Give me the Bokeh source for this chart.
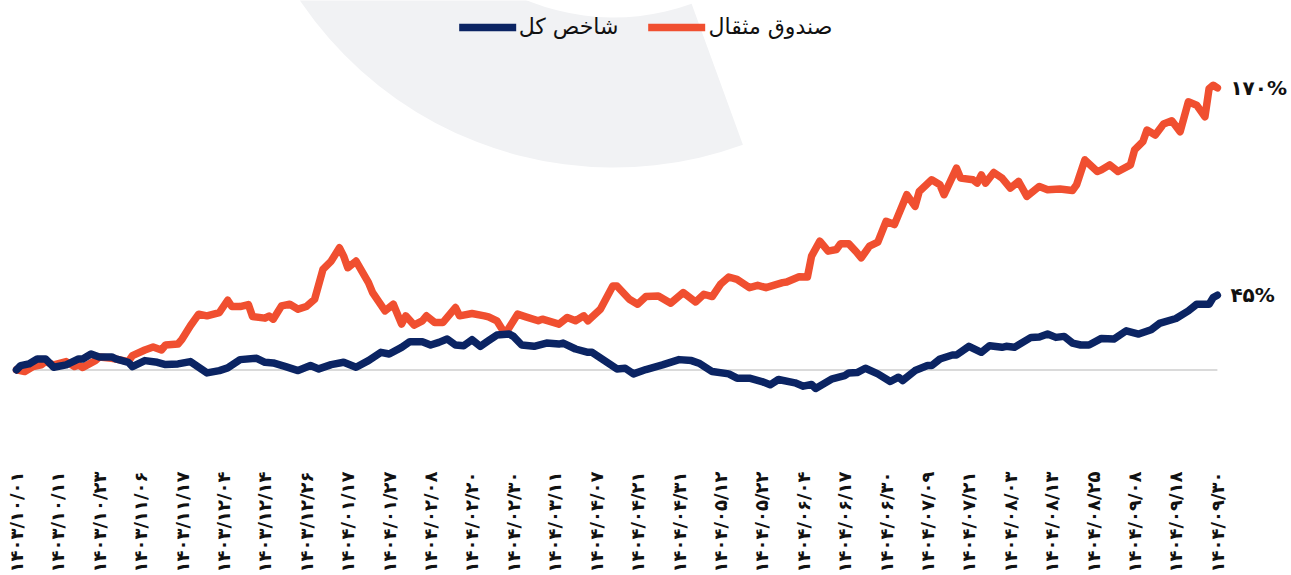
import math
from bokeh.plotting import figure
from bokeh.models import ColumnDataSource, FixedTicker, Legend, LegendItem, Range1d
from bokeh.core.properties import value
from bokeh.embed import file_html
from bokeh.resources import INLINE

# ---------------- data ----------------
tick_labels = [
    "۱۴۰۳/۱۰/۰۱", "۱۴۰۳/۱۰/۱۱", "۱۴۰۳/۱۰/۲۳", "۱۴۰۳/۱۱/۰۶", "۱۴۰۳/۱۱/۱۷",
    "۱۴۰۳/۱۲/۰۴", "۱۴۰۳/۱۲/۱۴", "۱۴۰۳/۱۲/۲۶", "۱۴۰۴/۰۱/۱۷", "۱۴۰۴/۰۱/۲۷",
    "۱۴۰۴/۰۲/۰۸", "۱۴۰۴/۰۲/۲۰", "۱۴۰۴/۰۲/۳۰", "۱۴۰۴/۰۳/۱۱", "۱۴۰۴/۰۴/۰۷",
    "۱۴۰۴/۰۴/۲۱", "۱۴۰۴/۰۴/۳۱", "۱۴۰۴/۰۵/۱۲", "۱۴۰۴/۰۵/۲۲", "۱۴۰۴/۰۶/۰۴",
    "۱۴۰۴/۰۶/۱۷", "۱۴۰۴/۰۶/۳۰", "۱۴۰۴/۰۷/۰۹", "۱۴۰۴/۰۷/۲۱", "۱۴۰۴/۰۸/۰۳",
    "۱۴۰۴/۰۸/۱۳", "۱۴۰۴/۰۸/۲۵", "۱۴۰۴/۰۹/۰۸", "۱۴۰۴/۰۹/۱۸", "۱۴۰۴/۰۹/۳۰",
]
TICK_STEP = 10  # one label every 10 sessions

fund_label = "صندوق مثقال"
index_label = "شاخص کل"

fund_x = [0, 2, 4, 6, 7, 9, 12, 14, 15, 16,
          19, 20, 23, 25, 27, 28, 31, 33, 35, 36,
          39, 40, 42, 44, 46, 49, 51, 52, 54, 56,
          57, 60, 61, 62, 64, 66, 68, 70, 72, 74,
          76, 78, 79, 80, 82, 85, 86, 89, 91, 93,
          94, 96, 98, 99, 101, 103, 106, 107, 110, 113,
          114, 116, 118, 121, 123, 126, 127, 131, 133, 135,
          137, 138, 141, 144, 145, 148, 150, 152, 155, 158,
          161, 164, 166, 168, 170, 172, 174, 177, 179, 181,
          185, 186, 189, 191, 192, 194, 196, 198, 199, 201,
          203, 204, 206, 208, 210, 212, 213, 215, 217, 218,
          221, 223, 224, 227, 228, 231, 232, 233, 234, 236,
          238, 240, 242, 244, 247, 249, 252, 255, 256, 258,
          261, 262, 264, 266, 269, 270, 272, 273, 275, 277,
          279, 281, 283, 285, 287, 288, 289, 290]
fund_y = [0, -1, 2, 3, 5, 3, 5, 2, 3, 1.5,
          5.5, 7.8, 7, 6, 5, 8.6, 12, 13.8, 12, 15,
          15.6, 18.6, 26.6, 33.6, 32.6, 34.6, 42, 38.2, 38.2, 39.4,
          32.2, 31.2, 32.5, 30.6, 38.6, 39.6, 36.6, 38.2, 42.6, 60.6,
          65.6, 73.6, 68.6, 61.6, 65.6, 52.6, 46.6, 35.6, 39.6, 27.6,
          32.6, 27, 29.6, 32.6, 28.6, 28.6, 37.6, 32.6, 34, 32.6,
          32, 29.6, 21.6, 33.6, 32, 29.6, 30.6, 27.6, 31.6, 29.6,
          32.6, 29.6, 36.6, 50.6, 50.6, 42.6, 39.6, 44.2, 44.6, 40.2,
          46.6, 41, 45.6, 44.2, 51.6, 56, 54.6, 49.6, 51, 49.6,
          52.6, 53, 56.2, 56, 68.6, 77.6, 71.6, 72.6, 76, 76,
          70.6, 67.6, 74.6, 77, 89.6, 87.6, 93.6, 105.6, 98.6, 107.6,
          114.6, 111.6, 105.6, 121.6, 115.6, 114.6, 112.6, 117.6, 112.6, 119,
          115.6, 109.6, 113.6, 104.6, 110.6, 108.6, 109, 108.2, 111.6, 126.6,
          119.6, 120.6, 123.6, 119.6, 123.6, 132.6, 137.6, 144.6, 141.6, 148.2,
          150.2, 143.6, 161.6, 159.6, 152.6, 169.6, 171.6, 170]

index_x = [0, 1, 3, 5, 7, 9, 12, 15, 16, 18,
           20, 23, 24, 27, 28, 31, 34, 36, 39, 42,
           46, 49, 51, 54, 58, 60, 62, 65, 68, 71,
           73, 76, 79, 82, 85, 88, 90, 93, 95, 98,
           100, 102, 104, 106, 108, 110, 112, 114, 116, 119,
           120, 122, 125, 128, 131, 132, 135, 138, 139, 142,
           145, 147, 149, 152, 156, 160, 163, 165, 168, 172,
           174, 177, 180, 182, 184, 188, 190, 192, 193, 197,
           200, 201, 203, 205, 208, 211, 213, 214, 217, 220,
           221, 223, 226, 227, 230, 233, 235, 238, 239, 241,
           245, 247, 249, 251, 253, 255, 257, 259, 262, 265,
           268, 271, 274, 276, 280, 283, 285, 288, 289, 290]
index_y = [0, 2.6, 3.6, 6.6, 6.6, 1.6, 3, 6.6, 6.6, 9.6,
           7.8, 7.8, 6.6, 4.6, 2, 5.6, 4.6, 3.2, 3.6, 5,
           -1.8, -0.4, 1.2, 6.2, 7, 4.6, 4.2, 2, -0.4, 2.6,
           0.6, 3.2, 4.6, 1.6, 5.6, 10.6, 9.6, 13.6, 17, 17,
           15, 16.6, 18.6, 15, 14.6, 18.2, 14.2, 17.6, 21, 21.6,
           20.2, 15, 14.2, 16.2, 15.6, 16.2, 12.6, 10.6, 10.6, 5.6,
           0.6, 1, -2.4, 0.2, 3, 6.2, 5.6, 3.8, -1, -2.4,
           -5, -5, -7, -9, -5.8, -7.8, -9.8, -8.8, -11.2, -5.4,
           -3.4, -1.8, -1.6, 1, -2.4, -7, -4.4, -6.4, -0.4, 2.6,
           2.6, 6.6, 9, 9, 14.2, 10.6, 14.6, 13.6, 14.2, 13.6,
           19.6, 19.8, 21.6, 19.6, 20.2, 16.2, 15, 15, 19, 18.6,
           23.6, 21.6, 24.2, 28, 31, 35.6, 39.6, 39.6, 43.6, 45]

# ---------------- style ----------------
FUND_COLOR = "#F04F30"
INDEX_COLOR = "#0B2463"
FONT = "DejaVu Sans"
PERSIAN = str.maketrans("0123456789", "۰۱۲۳۴۵۶۷۸۹")


def pct(v):
    return f"{round(v)}".translate(PERSIAN) + "%"


p = figure(width=1291, height=575, output_backend="svg", toolbar_location=None,
           x_range=Range1d(-3.86, 307.9), y_range=Range1d(-50.4, 222.7),
           y_axis_location=None,
           min_border_left=0, min_border_right=0, min_border_top=0,
           min_border_bottom=120)
p.outline_line_color = None
p.grid.visible = False
p.background_fill_color = "white"
p.border_fill_color = "white"

# decorative light-grey ring segment in the background
p.annular_wedge(x=144.2, y=349.9, inner_radius=228, outer_radius=378,
                inner_radius_units="screen", outer_radius_units="screen",
                start_angle=math.pi, end_angle=math.radians(290),
                fill_color="#F1F2F4", line_color=None)

# zero baseline
p.line(x=[fund_x[0], fund_x[-1]], y=[0, 0], line_color="#DADADA", line_width=2)

r_fund = p.line(x=fund_x, y=fund_y, line_color=FUND_COLOR, line_width=7.5,
                line_cap="round", line_join="round")
r_index = p.line(x=index_x, y=index_y, line_color=INDEX_COLOR, line_width=7.5,
                 line_cap="round", line_join="round")

end_src = ColumnDataSource(dict(
    x=[fund_x[-1], index_x[-1]],
    y=[fund_y[-1], index_y[-1]],
    t=[pct(fund_y[-1]), pct(index_y[-1])],
))
p.text(x="x", y="y", text="t", source=end_src, x_offset=13,
       text_align="left", text_baseline="middle",
       text_font=value(FONT), text_font_size="20px", text_font_style="bold",
       text_color="#111111")

# x axis
ticks = [i * TICK_STEP for i in range(len(tick_labels))]
ax = p.xaxis[0]
ax.ticker = FixedTicker(ticks=ticks)
ax.major_label_overrides = {t: lbl for t, lbl in zip(ticks, tick_labels)}
ax.major_label_orientation = math.pi / 2
ax.major_label_text_font = FONT
ax.major_label_text_font_size = "18px"
ax.major_label_text_font_style = "bold"
ax.major_label_text_color = "#111111"
ax.major_label_standoff = 12
ax.axis_line_color = None
ax.major_tick_line_color = None
ax.minor_tick_line_color = None

legend = Legend(items=[LegendItem(label=index_label, renderers=[r_index]),
                       LegendItem(label=fund_label, renderers=[r_fund])],
                orientation="horizontal", location="top_center",
                label_text_font=FONT, label_text_font_size="22px",
                label_text_color="#111111",
                glyph_width=57, glyph_height=22, label_standoff=3,
                spacing=30, padding=0, margin=14,
                background_fill_alpha=0, border_line_color=None)
p.add_layout(legend)

open("out.html", "w", encoding="utf-8").write(file_html(p, INLINE))
